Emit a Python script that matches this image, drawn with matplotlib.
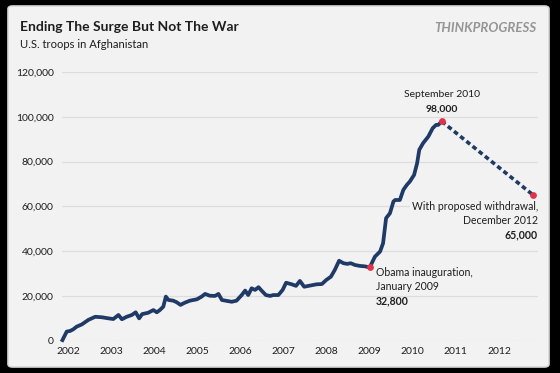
import matplotlib.pyplot as plt
from matplotlib.patches import FancyBboxPatch

plt.rcParams['font.family'] = ['Lato', 'DejaVu Sans']

# Data (decimal year, troops)
years = [2001.87, 2001.97, 2002.05, 2002.12, 2002.20, 2002.32, 2002.47, 2002.63, 2002.78, 2002.94,
         2003.05, 2003.17, 2003.25, 2003.36, 2003.48, 2003.57, 2003.65, 2003.72, 2003.86, 2003.98,
         2004.06, 2004.13, 2004.21, 2004.27, 2004.33, 2004.44, 2004.52, 2004.61, 2004.71, 2004.83,
         2004.99, 2005.10, 2005.18, 2005.29, 2005.41, 2005.49, 2005.57, 2005.68, 2005.80, 2005.91,
         2006.03, 2006.11, 2006.18, 2006.26, 2006.34, 2006.42, 2006.49, 2006.59, 2006.69, 2006.76,
         2006.88, 2006.98, 2007.06, 2007.19, 2007.29, 2007.38, 2007.48, 2007.61, 2007.77, 2007.89,
         2007.99, 2008.10, 2008.19, 2008.29, 2008.39, 2008.48, 2008.56, 2008.66, 2008.77, 2008.89,
         2009.00, 2009.12, 2009.24, 2009.31, 2009.38, 2009.47, 2009.55, 2009.59, 2009.70, 2009.78,
         2009.86, 2009.93, 2010.03, 2010.10, 2010.15, 2010.24, 2010.36, 2010.46, 2010.54, 2010.59,
         2010.67]
troops = [400, 4200, 4500, 5200, 6400, 7400, 9400, 10800, 10600, 10100,
          9800, 11600, 9700, 10800, 11600, 12800, 10100, 12000, 12600, 13800,
          12800, 13800, 15300, 19800, 18300, 18000, 17300, 16100, 17100, 18000,
          18600, 19800, 21000, 20200, 20100, 21000, 18300, 17900, 17500, 18000,
          20500, 22500, 20500, 23500, 22800, 24000, 22500, 20500, 20100, 20500,
          20500, 22800, 26000, 25300, 24600, 26800, 24200, 24700, 25300, 25400,
          27200, 28700, 31700, 35800, 34700, 34400, 34700, 33900, 33500, 33300,
          32800, 37600, 39900, 43600, 54800, 57000, 62200, 62900, 62900, 67400,
          69600, 71100, 74100, 79300, 85300, 88300, 91200, 94900, 96400, 96400,
          98000]

proj_years = [2010.67, 2012.80]
proj_troops = [98000, 65000]

key_years = [2009.00, 2010.67, 2012.80]
key_troops = [32800, 98000, 65000]

tick_years = list(range(2002, 2013))
yticks = [0, 20000, 40000, 60000, 80000, 100000, 120000]

navy = '#1f3a66'
red = '#e2334b'
panel = '#f2f2f2'
txt = '#1e1e1e'

fig = plt.figure(figsize=(5.6, 3.73), dpi=100, facecolor='black')
fig.patches.append(FancyBboxPatch((8 / 560, 6 / 373), 541 / 560, 361 / 373,
                                  boxstyle='round,pad=0,rounding_size=0.008',
                                  transform=fig.transFigure, facecolor=panel,
                                  edgecolor='#d8d8d8', linewidth=1.2, zorder=-5))

ax = fig.add_axes([62 / 560, 32 / 373, 476 / 560, 269 / 373])
ax.set_zorder(2)
ax.set_facecolor('none')

ax.plot(years, troops, color=navy, lw=2.7, solid_joinstyle='round', clip_on=False, zorder=3)
ax.plot(proj_years, proj_troops, color=navy, lw=2.6, ls=(0, (1.3, 0.9)), zorder=3)
ax.scatter(key_years, key_troops, s=24, color=red, zorder=4, clip_on=False, linewidths=0)

ax.set_xlim(2001.86, 2012.905)
ax.set_ylim(0, 120000)

for y in yticks[1:]:
    ax.axhline(y, color='#dddddd', lw=0.9, zorder=1)
ax.axhline(0, color='#cfcfcf', lw=0.9, ls=(0, (1, 1.5)), zorder=1)

ax.set_yticks(yticks)
ax.set_yticklabels([f'{v:,}' for v in yticks])
ax.set_xticks(tick_years)
ax.set_xticklabels([str(y) for y in tick_years])
ax.tick_params(length=0, labelsize=7.5, colors=txt, pad=6)
ax.tick_params(axis='x', pad=4)
for s in ax.spines.values():
    s.set_visible(False)

bb = dict(facecolor=panel, edgecolor='none', pad=1)
ax.text(2010.67, 109800, 'September 2010', ha='center', va='center', fontsize=7.5, color=txt)
ax.text(2010.67, 103600, '98,000', ha='center', va='center', fontsize=7.5, color=txt, fontweight='bold')

ax.text(2012.9, 59800, 'With proposed withdrawal,', ha='right', va='center', fontsize=7.6, color=txt, bbox=bb)
ax.text(2012.9, 53600, 'December 2012', ha='right', va='center', fontsize=7.6, color=txt)
ax.text(2012.9, 47300, '65,000', ha='right', va='center', fontsize=7.6, color=txt, fontweight='bold')

ax.text(2009.15, 30400, 'Obama inauguration,', ha='left', va='center', fontsize=7.6, color=txt)
ax.text(2009.15, 24100, 'January 2009', ha='left', va='center', fontsize=7.6, color=txt, bbox=bb)
ax.text(2009.15, 17900, '32,800', ha='left', va='center', fontsize=7.6, color=txt, fontweight='bold')

fig.text(20 / 560, 1 - 27 / 373, 'Ending The Surge But Not The War', ha='left', va='center',
         fontsize=10, fontweight='bold', color=txt)
fig.text(20 / 560, 1 - 45 / 373, 'U.S. troops in Afghanistan', ha='left', va='center',
         fontsize=8.1, color=txt)
fig.text(537 / 560, 1 - 28 / 373, 'THINKPROGRESS', ha='right', va='center',
         fontsize=9.5, fontweight='bold', fontstyle='italic', color='#959595')

fig.savefig('out.png', dpi=100, facecolor='black')
